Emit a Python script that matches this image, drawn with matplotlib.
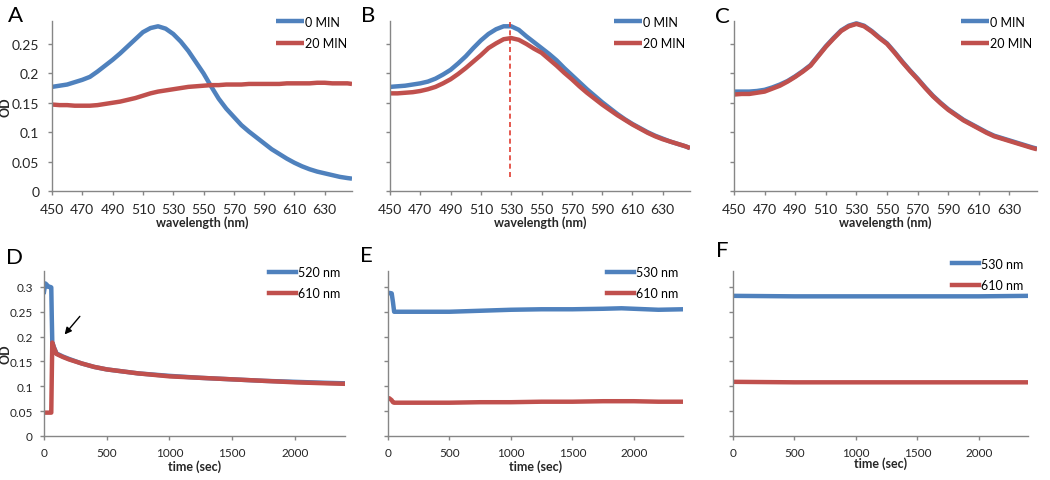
import matplotlib
matplotlib.use("Agg")
import matplotlib.pyplot as plt
import numpy as np

plt.rcParams['font.family'] = ['Lato', 'DejaVu Sans']

# wavelength scans (nm)
wl = [450, 455, 460, 465, 470, 475, 480, 485, 490, 495, 500, 505, 510, 515, 520, 525, 530, 535, 540, 545,
      550, 555, 560, 565, 570, 575, 580, 585, 590, 595, 600, 605, 610, 615, 620, 625, 630, 635, 640, 645, 648]
a_0min = [0.177, 0.179, 0.181, 0.185, 0.189, 0.194, 0.203, 0.213, 0.223, 0.234, 0.246, 0.258, 0.270, 0.277,
          0.280, 0.276, 0.267, 0.254, 0.238, 0.219, 0.200, 0.178, 0.157, 0.140, 0.126, 0.112, 0.101, 0.091,
          0.081, 0.071, 0.063, 0.055, 0.048, 0.042, 0.037, 0.033, 0.030, 0.027, 0.024, 0.022, 0.021]
a_20min = [0.147, 0.146, 0.146, 0.145, 0.145, 0.145, 0.146, 0.148, 0.150, 0.152, 0.155, 0.158, 0.162, 0.166,
           0.169, 0.171, 0.173, 0.175, 0.177, 0.178, 0.179, 0.180, 0.180, 0.181, 0.181, 0.181, 0.182, 0.182,
           0.182, 0.182, 0.182, 0.183, 0.183, 0.183, 0.183, 0.184, 0.184, 0.183, 0.183, 0.183, 0.182]
b_0min = [0.177, 0.178, 0.179, 0.181, 0.183, 0.186, 0.191, 0.198, 0.206, 0.217, 0.229, 0.243, 0.256, 0.267,
          0.275, 0.280, 0.280, 0.274, 0.263, 0.253, 0.243, 0.233, 0.222, 0.209, 0.197, 0.185, 0.173, 0.162,
          0.151, 0.141, 0.131, 0.122, 0.114, 0.107, 0.100, 0.094, 0.089, 0.084, 0.080, 0.076, 0.073]
b_20min = [0.166, 0.166, 0.167, 0.168, 0.170, 0.173, 0.177, 0.183, 0.190, 0.199, 0.209, 0.220, 0.231, 0.243,
           0.251, 0.258, 0.260, 0.257, 0.250, 0.242, 0.235, 0.224, 0.213, 0.201, 0.190, 0.178, 0.167, 0.157,
           0.147, 0.138, 0.129, 0.121, 0.113, 0.106, 0.099, 0.093, 0.088, 0.084, 0.080, 0.076, 0.073]
c_0min = [0.169, 0.169, 0.169, 0.170, 0.172, 0.176, 0.181, 0.187, 0.195, 0.204, 0.214, 0.230, 0.246, 0.260,
          0.273, 0.281, 0.285, 0.281, 0.272, 0.261, 0.251, 0.236, 0.220, 0.205, 0.191, 0.176, 0.162, 0.150,
          0.139, 0.130, 0.121, 0.114, 0.107, 0.100, 0.094, 0.090, 0.086, 0.082, 0.078, 0.074, 0.072]
c_20min = [0.164, 0.165, 0.165, 0.167, 0.169, 0.174, 0.179, 0.186, 0.194, 0.203, 0.213, 0.229, 0.245, 0.259,
           0.272, 0.280, 0.284, 0.280, 0.271, 0.260, 0.250, 0.235, 0.219, 0.204, 0.190, 0.175, 0.161, 0.149,
           0.138, 0.129, 0.120, 0.113, 0.106, 0.099, 0.093, 0.089, 0.085, 0.081, 0.077, 0.073, 0.071]
peak_b = 529

# time scans (sec)
t_d = [0, 10, 20, 35, 50, 58, 62, 66, 80, 100, 150, 200, 300, 400, 500, 750, 1000, 1250, 1500, 1750, 2000, 2250, 2400]
d_520 = [0.290, 0.307, 0.305, 0.300, 0.300, 0.299, 0.240, 0.189, 0.178, 0.166, 0.160, 0.155, 0.146, 0.139, 0.134,
         0.126, 0.121, 0.117, 0.114, 0.111, 0.109, 0.107, 0.106]
d_610 = [0.047, 0.047, 0.047, 0.047, 0.047, 0.047, 0.120, 0.188, 0.177, 0.165, 0.159, 0.154, 0.146, 0.139, 0.134,
         0.126, 0.120, 0.117, 0.114, 0.111, 0.108, 0.106, 0.105]
t_e = [0, 10, 30, 40, 50, 200, 500, 750, 1000, 1250, 1500, 1750, 1900, 2000, 2200, 2400]
e_530 = [0.287, 0.288, 0.287, 0.270, 0.250, 0.250, 0.250, 0.252, 0.254, 0.255, 0.255, 0.256, 0.257, 0.256, 0.254, 0.255]
e_610 = [0.075, 0.076, 0.072, 0.068, 0.067, 0.067, 0.067, 0.068, 0.068, 0.069, 0.069, 0.070, 0.070, 0.070, 0.069, 0.069]
t_f = [0, 500, 1000, 1500, 2000, 2400]
f_530 = [0.282, 0.281, 0.281, 0.281, 0.281, 0.282]
f_610 = [0.109, 0.108, 0.108, 0.108, 0.108, 0.108]

blue = '#4F81BD'
red = '#C0504D'
gray = '#868686'
txt = '#262626'

fig = plt.figure(figsize=(10.5, 4.81), dpi=100)
W, H = 1050.0, 481.0


def make_ax(l, t, r, b, size=10, pad=6):
    ax = fig.add_axes([l / W, 1 - b / H, (r - l) / W, (b - t) / H])
    for s in ['top', 'right']:
        ax.spines[s].set_visible(False)
    for s in ['left', 'bottom']:
        ax.spines[s].set_color(gray)
        ax.spines[s].set_linewidth(1.0)
    ax.tick_params(colors=gray, labelcolor=txt, labelsize=size, length=3, width=1, pad=pad)
    return ax


def legend(ax, labels, top=1.06):
    ax.legend(labels, loc='upper right', bbox_to_anchor=(1.0, top), frameon=False, fontsize=9,
              handlelength=2.2, handletextpad=0.1, labelspacing=0.75, borderaxespad=0)


# top row: spectra
tops = [(52, 22, 352, 192), (390, 22, 690, 192), (734, 22, 1037, 192)]
spectra = [(a_0min, a_20min), (b_0min, b_20min), (c_0min, c_20min)]
for i, (box, (s0, s20)) in enumerate(zip(tops, spectra)):
    ax = make_ax(*box)
    ax.plot(wl, s0, color=blue, lw=3.2, solid_capstyle='butt', solid_joinstyle='round')
    ax.plot(wl, s20, color=red, lw=3.2, solid_capstyle='butt', solid_joinstyle='round')
    ax.set_xlim(450, 648)
    ax.set_ylim(0, 0.289)
    ax.set_xticks(np.arange(450, 641, 20))
    ax.set_yticks([0, 0.05, 0.1, 0.15, 0.2, 0.25])
    if i == 0:
        ax.set_yticklabels(['0', '0.05', '0.1', '0.15', '0.2', '0.25'])
        ax.set_ylabel('OD', fontsize=9, fontweight='bold', color=txt)
        ax.yaxis.set_label_coords(-0.135, 0.5)
    else:
        ax.set_yticklabels([])
    ax.set_xlabel('wavelength (nm)', fontsize=9, fontweight='bold', color=txt, labelpad=0)
    legend(ax, ['0 MIN', '20 MIN'])
    if i == 1:
        ax.plot([peak_b, peak_b], [0.024, 0.289], color='#E03C31', lw=1.2, ls=(0, (3, 2)))

# bottom row: time courses
bots = [(44, 272, 345, 437), (388, 272, 683, 437), (733, 272, 1028, 437)]
series = [(t_d, d_520, d_610, '520 nm'), (t_e, e_530, e_610, '530 nm'), (t_f, f_530, f_610, '530 nm')]
for i, (box, (t, s1, s2, lab)) in enumerate(zip(bots, series)):
    ax = make_ax(*box, size=8.5, pad=5)
    ax.plot(t, s1, color=blue, lw=3.2)
    ax.plot(t, s2, color=red, lw=3.2)
    ax.set_xlim(0, 2400)
    ax.set_ylim(0, 0.332)
    ax.set_xticks([0, 500, 1000, 1500, 2000])
    ax.set_yticks([0, 0.05, 0.1, 0.15, 0.2, 0.25, 0.3])
    if i == 0:
        ax.set_yticklabels(['0', '0.05', '0.1', '0.15', '0.2', '0.25', '0.3'])
        ax.set_ylabel('OD', fontsize=9, fontweight='bold', color=txt)
        ax.yaxis.set_label_coords(-0.108, 0.5)
        ax.annotate('', xy=(150, 0.20), xytext=(300, 0.245),
                    arrowprops=dict(arrowstyle='-|>', color='black', lw=1.0, mutation_scale=10))
    else:
        ax.set_yticklabels([])
    ax.set_xlabel('time (sec)', fontsize=9, fontweight='bold', color=txt, labelpad=1 if i < 2 else -1)
    legend(ax, [lab, '610 nm'], top=1.06 if i < 2 else 1.11)

# panel letters
for ch, x, y in [('A', 15, 16), ('B', 368, 16), ('C', 722, 17), ('D', 15, 258), ('E', 366, 256), ('F', 722, 251)]:
    fig.text(x / W, 1 - y / H, ch, fontsize=16, color='black', ha='center', va='center')

plt.savefig('out.png', dpi=100)
